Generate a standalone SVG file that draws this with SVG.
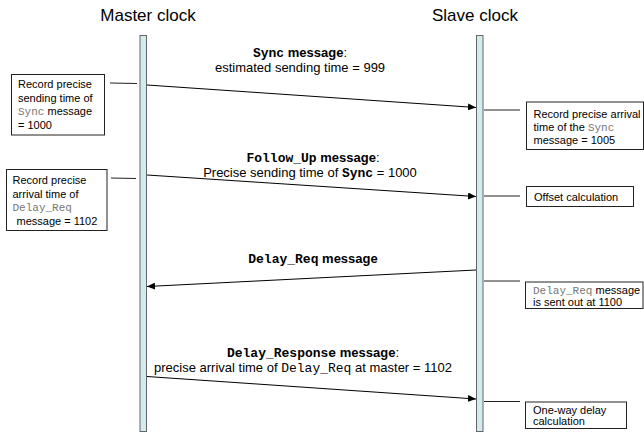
<svg xmlns="http://www.w3.org/2000/svg" width="644" height="434" viewBox="0 0 644 434">
<defs>
<marker id="ah" markerWidth="8" markerHeight="7" refX="8" refY="3.5" orient="auto" markerUnits="userSpaceOnUse">
<path d="M0,0 L8,3.5 L0,7 Z" fill="#000"/>
</marker>
<style>
.title{font-family:"Liberation Sans",Arial,sans-serif;font-size:17px;fill:#000}
.lbl{font-family:"Liberation Sans",Arial,sans-serif;font-size:13px;fill:#000}
.b{font-weight:bold}
.m{font-family:"Liberation Mono","Courier New",monospace}
.box{fill:#fff;stroke:#222;stroke-width:1}
.bt{font-family:"Liberation Sans",Arial,sans-serif;font-size:11px;fill:#000}
.gm{font-family:"Liberation Mono","Courier New",monospace;fill:#777}
.life{fill:#d3ebec;stroke:#666;stroke-width:1}
.msg{stroke:#000;stroke-width:1;fill:none;marker-end:url(#ah)}
.tick{stroke:#222;stroke-width:1}
</style>
</defs>
<rect width="644" height="434" fill="#fff"/>
<g id="master">
<text class="title" x="148" y="21" text-anchor="middle">Master clock</text>
<rect class="life" x="140" y="35.5" width="6.5" height="396"/>
</g>
<g id="slave">
<text class="title" x="475" y="21" text-anchor="middle">Slave clock</text>
<rect class="life" x="476.5" y="35.5" width="6.5" height="396"/>
</g>
<g id="connectors">
<line class="msg" x1="147" y1="85" x2="476" y2="107.5"/>
<line class="msg" x1="147" y1="175" x2="476" y2="196.5"/>
<line class="msg" x1="476" y1="270" x2="147" y2="286.5"/>
<line class="msg" x1="147" y1="376.5" x2="476" y2="399"/>
<line class="tick" x1="110" y1="83" x2="137" y2="83.5"/>
<line class="tick" x1="111" y1="178" x2="136" y2="178.5"/>
<line class="tick" x1="484" y1="110" x2="520" y2="110"/>
<line class="tick" x1="484" y1="196" x2="520" y2="196"/>
<line class="tick" x1="484" y1="281" x2="520" y2="281"/>
<line class="tick" x1="484" y1="401.5" x2="520" y2="401.5"/>
</g>
<g id="label-sync">
<text class="lbl" x="300" y="57" text-anchor="middle"><tspan class="m b">Sync</tspan><tspan class="b"> message</tspan>:</text>
<text class="lbl" x="300" y="72" text-anchor="middle">estimated sending time = 999</text>
</g>
<g id="label-followup">
<text class="lbl" x="313" y="162" text-anchor="middle"><tspan class="m b">Follow_Up</tspan><tspan class="b"> message</tspan>:</text>
<text class="lbl" x="310" y="177" text-anchor="middle">Precise sending time of <tspan class="m b">Sync</tspan> = 1000</text>
</g>
<g id="label-delayreq">
<text class="lbl" x="313" y="263" text-anchor="middle"><tspan class="m b">Delay_Req</tspan><tspan class="b"> message</tspan></text>
</g>
<g id="label-delayresp">
<text class="lbl" x="313" y="357" text-anchor="middle"><tspan class="m b">Delay_Response</tspan><tspan class="b"> message</tspan>:</text>
<text class="lbl" x="303" y="372" text-anchor="middle">precise arrival time of <tspan class="m">Delay_Req</tspan> at master = 1102</text>
</g>
<g id="box-master-sync">
<rect class="box" x="11.5" y="74.5" width="93" height="60.5"/>
<text class="bt" x="18" y="88">Record precise</text>
<text class="bt" x="18" y="101.5">sending time of</text>
<text class="bt" x="18" y="115"><tspan class="gm">Sync</tspan> message</text>
<text class="bt" x="18" y="128.5">= 1000</text>
</g>
<g id="box-master-delayreq">
<rect class="box" x="6.5" y="169.5" width="100.5" height="61"/>
<text class="bt" x="12.5" y="184">Record precise</text>
<text class="bt" x="12.5" y="197.5">arrival time of</text>
<text class="bt" x="12.5" y="211"><tspan class="gm">Delay_Req</tspan></text>
<text class="bt" x="16.5" y="224.5">message = 1102</text>
</g>
<g id="box-slave-sync">
<rect class="box" x="526.5" y="102" width="117" height="47.5"/>
<text class="bt" x="533.5" y="117.5">Record precise arrival</text>
<text class="bt" x="533.5" y="130.5">time of the <tspan class="gm">Sync</tspan></text>
<text class="bt" x="533.5" y="143.5">message = 1005</text>
</g>
<g id="box-offset">
<rect class="box" x="526.5" y="186.5" width="107" height="20"/>
<text class="bt" x="534" y="200.5">Offset calculation</text>
</g>
<g id="box-slave-delayreq">
<rect class="box" x="525.5" y="282" width="117.5" height="26.5"/>
<text class="bt" x="533" y="294"><tspan class="gm">Delay_Req</tspan> message</text>
<text class="bt" x="533" y="305.5">is sent out at 1100</text>
</g>
<g id="box-oneway">
<rect class="box" x="525.5" y="402" width="101" height="26.5"/>
<text class="bt" x="533" y="413.5">One-way delay</text>
<text class="bt" x="533" y="425">calculation</text>
</g>
</svg>
